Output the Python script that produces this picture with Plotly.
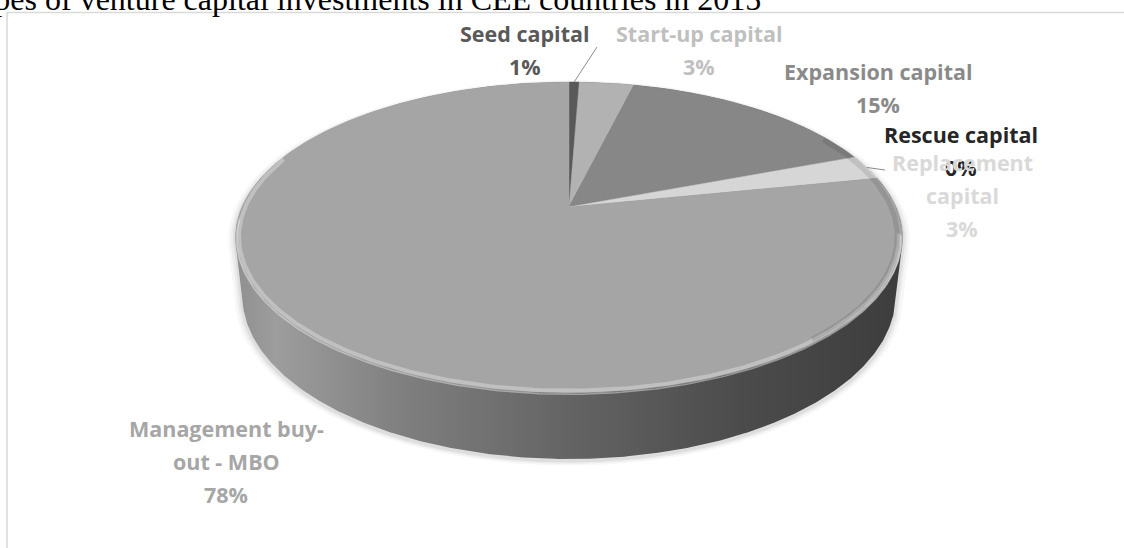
import numpy as np
import plotly.graph_objects as go

# ---------------- data ----------------
title_text = "Types of venture capital investments in CEE countries in 2015"
categories = ["Seed capital", "Start-up capital", "Expansion capital",
              "Rescue capital", "Replacement capital", "Management buy-out - MBO"]
values = [0.6, 3.2, 15.4, 0.0, 2.6, 78.2]
label_lines = [["Seed capital"], ["Start-up capital"], ["Expansion capital"],
               ["Rescue capital"], ["Replacement", "capital"],
               ["Management buy-", "out - MBO"]]

# ---------------- style / layout ----------------
slice_colors = ["#595959", "#b2b2b2", "#878787", "#262626", "#d6d6d6", "#a5a5a5"]
label_colors = ["#595959", "#bfbfbf", "#8a8a8a", "#262626", "#d9d9d9", "#a6a6a6"]
label_pos = [(525, 33), (699, 33), (878, 71), (961, 134), (962, 162), (226, 428)]
LINE_GAP = 33
leader_ends = {0: (597, 47), 4: (885, 170)}

W, H = 1124, 548
CX, CY = 569, 207          # screen position of pie centre
F, D = 1483.7, 4.537       # perspective focal length / camera distance
ELEV = np.radians(27.2)    # camera elevation
THICK = 0.2                # pie thickness (radius = 1)

def project(r, phi, z):
    X = r * np.sin(phi)
    Y = r * np.cos(phi)
    depth = D + Y * np.cos(ELEV) - z * np.sin(ELEV)
    u = F * X / depth
    v = F * (Y * np.sin(ELEV) + z * np.cos(ELEV)) / depth
    return CX + u, CY - v

def convex_hull(px, py):
    pts = sorted(set(zip(np.round(px, 3), np.round(py, 3))))
    def cross(o, a, b):
        return (a[0]-o[0])*(b[1]-o[1]) - (a[1]-o[1])*(b[0]-o[0])
    lower, upper = [], []
    for p in pts:
        while len(lower) >= 2 and cross(lower[-2], lower[-1], p) <= 0:
            lower.pop()
        lower.append(p)
    for p in reversed(pts):
        while len(upper) >= 2 and cross(upper[-2], upper[-1], p) <= 0:
            upper.pop()
        upper.append(p)
    hull = lower[:-1] + upper[:-1]
    hx = [p[0] for p in hull] + [hull[0][0]]
    hy = [p[1] for p in hull] + [hull[0][1]]
    return np.array(hx), np.array(hy)

fig = go.Figure()

# ---- cylinder body (side) ----
ang = np.linspace(0, 2 * np.pi, 721)
tx, ty = project(1.0, ang, 0.0)
bx, by = project(1.0, ang, -THICK)
hx, hy = convex_hull(np.concatenate([tx, bx]), np.concatenate([ty, by]))

# soft shadow
mx, my = hx.mean(), hy.mean()
for k, op in [(1.022, 0.03), (1.014, 0.045), (1.007, 0.06)]:
    fig.add_trace(go.Scatter(x=mx + (hx - mx) * k, y=my + (hy - my) * k + 2,
                             fill="toself", mode="lines", line=dict(width=0),
                             fillcolor=f"rgba(0,0,0,{op})", hoverinfo="skip",
                             showlegend=False))

fig.add_trace(go.Scatter(
    x=hx, y=hy, fill="toself", mode="lines", line=dict(width=0),
    fillgradient=dict(type="horizontal",
                      colorscale=[[0, "#8f8f8f"], [0.06, "#9d9d9d"], [0.25, "#7f7f7f"],
                                  [0.5, "#646464"], [0.75, "#4c4c4c"], [1, "#3d3d3d"]]),
    hoverinfo="skip", showlegend=False))

# ---- top face slices ----
total = sum(values)
cum = 0.0
mids = []
for i, v in enumerate(values):
    a0 = 2 * np.pi * cum / total
    a1 = 2 * np.pi * (cum + v) / total
    mids.append((a0 + a1) / 2)
    cum += v
    if v <= 0:
        continue
    n = max(3, int(np.degrees(a1 - a0) * 2))
    arc = np.linspace(a0, a1, n)
    ax_, ay_ = project(1.0, arc, 0.0)
    ox, oy = project(0.0, 0.0, 0.0)
    xs = np.concatenate([[ox], ax_, [ox]])
    ys = np.concatenate([[oy], ay_, [oy]])
    fig.add_trace(go.Scatter(x=xs, y=ys, fill="toself", mode="lines",
                             line=dict(width=0.5, color=slice_colors[i]),
                             fillcolor=slice_colors[i], name=categories[i],
                             hoverinfo="name", showlegend=False))

# ---- bevel: soft highlight on the front rim, darker shading on the right rim ----
fr = np.linspace(np.radians(100), np.radians(290), 240)
rx, ry = project(0.99, fr, 0.0)
fig.add_trace(go.Scatter(x=rx, y=ry, mode="lines",
                         line=dict(color="rgba(255,255,255,0.30)", width=4),
                         hoverinfo="skip", showlegend=False))
fr1 = np.linspace(np.radians(100), np.radians(266), 200)
rx1, ry1 = project(0.997, fr1, -0.006)
fig.add_trace(go.Scatter(x=rx1, y=ry1, mode="lines",
                         line=dict(color="rgba(255,255,255,0.40)", width=1.5),
                         hoverinfo="skip", showlegend=False))
fr2 = np.linspace(np.radians(60), np.radians(140), 120)
rx2, ry2 = project(0.985, fr2, 0.0)
fig.add_trace(go.Scatter(x=rx2, y=ry2, mode="lines",
                         line=dict(color="rgba(0,0,0,0.10)", width=5),
                         hoverinfo="skip", showlegend=False))

# ---- leader lines ----
for i, (ex, ey) in leader_ends.items():
    sx, sy = project(1.0, mids[i], 0.0)
    fig.add_trace(go.Scatter(x=[sx, ex], y=[sy, ey], mode="lines",
                             line=dict(color="#8c8c8c", width=1),
                             hoverinfo="skip", showlegend=False))

# ---- labels ----
annotations = []
for i, v in enumerate(values):
    pct = f"{int(np.floor(v / total * 100 + 0.5))}%"
    lines = label_lines[i] + [pct]
    x0, y0 = label_pos[i]
    for j, txt in enumerate(lines):
        annotations.append(dict(
            x=x0, y=y0 + j * LINE_GAP, xref="x", yref="y", text=txt,
            showarrow=False, xanchor="center", yanchor="middle",
            font=dict(family="Open Sans", size=21.5, color=label_colors[i],
                      weight="bold")))

annotations.append(dict(
    x=763 / W, y=1 + 1 / H, xref="paper", yref="paper", text=title_text,
    showarrow=False, xanchor="right", yanchor="middle",
    font=dict(family="Liberation Serif", size=32, color="#000000")))

shapes = [
    dict(type="line", x0=7, y0=12.5, x1=W + 5, y1=12.5, xref="x", yref="y",
         line=dict(color="#d9d9d9", width=1.5)),
    dict(type="line", x0=7, y0=12.5, x1=7, y1=H + 5, xref="x", yref="y",
         line=dict(color="#d9d9d9", width=1.5)),
]

fig.update_layout(
    width=W, height=H, autosize=False,
    margin=dict(l=0, r=0, t=0, b=0),
    paper_bgcolor="white", plot_bgcolor="white",
    xaxis=dict(range=[0, W], visible=False, fixedrange=True),
    yaxis=dict(range=[H, 0], visible=False, fixedrange=True),
    annotations=annotations, shapes=shapes, showlegend=False,
)

fig.write_html("out.html")
